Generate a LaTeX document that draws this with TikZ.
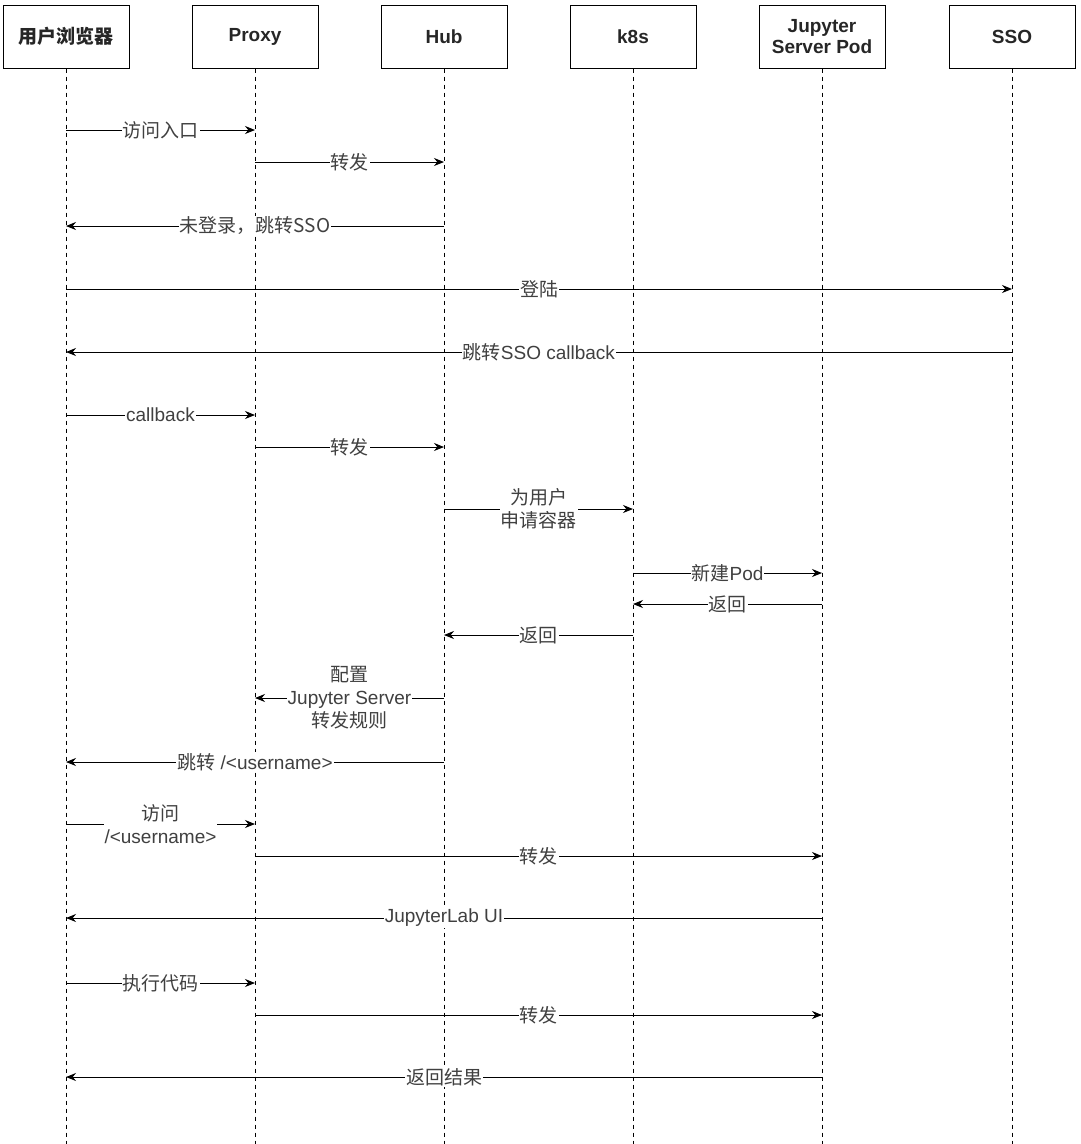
\documentclass[tikz,border=0pt]{standalone}
\usepackage{fontspec}
\setmainfont{Liberation Sans}
\newfontfamily\cjk{Noto Sans CJK SC}
\usetikzlibrary{arrows.meta}
\begin{document}
\begin{tikzpicture}[x=1pt,y=-1pt,
  hdr/.style={draw,line width=1pt,minimum width=126pt,minimum height=63pt,inner sep=1pt,align=center,font=\fontsize{19}{21}\selectfont\bfseries,text=black!85},
  life/.style={dashed,line width=0.9pt,dash pattern=on 4pt off 4pt},
  msg/.style={line width=1pt,-{Stealth[length=10pt,width=8pt]}},
  lbl/.style={fill=white,inner sep=1pt,align=center,font=\fontsize{19}{23}\selectfont,text=black!75}]
\useasboundingbox (0,0) rectangle (1080,1144);
\foreach \n/\x/\t in {u/66/{\cjk 用户浏览器},p/255/Proxy,h/444/Hub,k/633/k8s,j/822/{Jupyter\\Server Pod},s/1012/SSO}{
  \node[hdr] (\n) at (\x,36.5) {\t};
  \coordinate (\n b) at (\x,1144);
  \draw[life] (\n.south) -- (\n b);
}
\newcommand\msgline[4]{%
  \coordinate (a) at (#2 |- 0,#1); \coordinate (b) at (#3 |- 0,#1);
  \draw[msg] (a) -- (b) node[midway,lbl]{#4};}
\msgline{130}{u}{p}{\cjk 访问入口}
\msgline{162}{p}{h}{\cjk 转发}
\msgline{226}{h}{u}{\cjk 未登录，跳转SSO}
\msgline{289}{u}{s}{\cjk 登陆}
\msgline{352}{s}{u}{{\cjk 跳转}SSO callback}
\msgline{415}{u}{p}{callback}
\msgline{447}{p}{h}{\cjk 转发}
\msgline{509}{h}{k}{\cjk 为用户\\\cjk 申请容器}
\msgline{573}{k}{j}{{\cjk 新建}Pod}
\msgline{604}{j}{k}{\cjk 返回}
\msgline{635}{k}{h}{\cjk 返回}
\msgline{698}{h}{p}{\cjk 配置\\Jupyter Server\\\cjk 转发规则}
\msgline{762}{h}{u}{{\cjk 跳转} /<username>}
\msgline{824}{u}{p}{\cjk 访问\\/<username>}
\msgline{856}{p}{j}{\cjk 转发}
\msgline{918}{j}{u}{JupyterLab UI}
\msgline{983}{u}{p}{\cjk 执行代码}
\msgline{1015}{p}{j}{\cjk 转发}
\msgline{1077}{j}{u}{\cjk 返回结果}
\end{tikzpicture}
\end{document}
